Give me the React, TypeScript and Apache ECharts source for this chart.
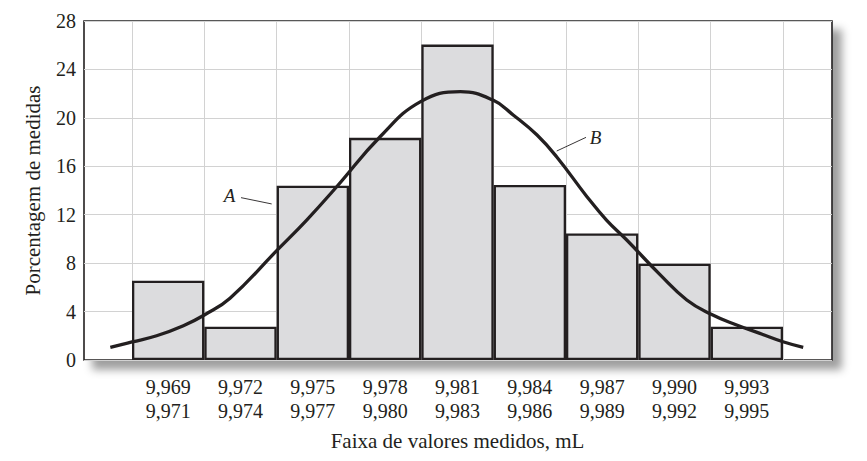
import React, { useEffect, useRef } from "react";
import * as echarts from "echarts";

const binStarts = ["9,969", "9,972", "9,975", "9,978", "9,981", "9,984", "9,987", "9,990", "9,993"];
const binEnds = ["9,971", "9,974", "9,977", "9,980", "9,983", "9,986", "9,989", "9,992", "9,995"];
const percentages = [6.55, 2.75, 14.4, 18.35, 26.05, 14.45, 10.45, 7.95, 2.75];

// Smooth curve, x measured in bin units (0 = left edge of first bin)
const curveX = [-0.3, 0.0, 0.34, 0.71, 1.0, 1.355, 2.0, 2.415, 2.83, 3.43, 3.99, 4.54, 4.99, 5.27, 5.6, 5.87, 6.29, 6.56, 6.84, 7.3, 7.67, 8.0, 8.36, 8.68, 9.0, 9.28];
const curveY = [1.05, 1.49, 2.0, 2.83, 3.72, 5.1, 9.03, 11.56, 14.31, 18.44, 21.34, 22.16, 21.47, 20.24, 18.58, 16.79, 13.49, 11.56, 9.91, 7.05, 4.96, 3.8, 2.89, 2.2, 1.51, 1.05];

const yMin = 0;
const yMax = 28;
const yInterval = 4;
const xMin = -0.664;
const xMax = 9.678;

const annotations = [
  { text: "A", label: [1.348, 13.55], from: [1.507, 13.41], to: [1.931, 12.89] },
  { text: "B", label: [6.408, 18.38], from: [5.872, 17.26], to: [6.277, 18.39] },
];

const FONT = "Liberation Serif";
const INK = "#231f20";

export default function App() {
  const ref = useRef<HTMLDivElement>(null);
  useEffect(() => {
    if (!ref.current) return;
    const chart = echarts.init(ref.current, undefined, { renderer: "svg" });
    const option: any = {
      animation: false,
      backgroundColor: "#ffffff",
      textStyle: { fontFamily: FONT, color: INK },
      grid: [
        {
          left: 84,
          right: 35,
          top: 21,
          bottom: 101,
          show: true,
          backgroundColor: "#ffffff",
          borderColor: INK,
          borderWidth: 1.6,
          shadowColor: "rgba(0,0,0,0.38)",
          shadowBlur: 8,
          shadowOffsetX: 9,
          shadowOffsetY: 9,
        },
        { left: 132, right: 84, top: 21, bottom: 101, show: false },
      ],
      xAxis: [
        {
          type: "value",
          gridIndex: 0,
          min: xMin,
          max: xMax,
          show: false,
        },
        {
          type: "category",
          gridIndex: 1,
          data: binStarts.map((s, i) => s + "\n" + binEnds[i]),
          boundaryGap: true,
          axisLine: { show: false },
          axisTick: { show: false },
          splitLine: { show: true, lineStyle: { color: "#d2d2d2", width: 1 } },
          axisLabel: {
            margin: 15,
            fontFamily: FONT,
            fontSize: 20,
            lineHeight: 24,
            color: INK,
            interval: 0,
          },
          name: "Faixa de valores medidos, mL",
          nameLocation: "middle",
          nameGap: 70,
          nameTextStyle: { fontFamily: FONT, fontSize: 21, color: INK },
        },
      ],
      yAxis: [
        {
          type: "value",
          gridIndex: 0,
          min: yMin,
          max: yMax,
          interval: yInterval,
          axisLine: { show: false },
          axisTick: { show: false },
          splitLine: { show: true, lineStyle: { color: "#d2d2d2", width: 1 } },
          axisLabel: { margin: 8, fontFamily: FONT, fontSize: 20, color: INK },
          name: "Porcentagem de medidas",
          nameLocation: "middle",
          nameGap: 41,
          nameRotate: 90,
          nameTextStyle: { fontFamily: FONT, fontSize: 21, color: INK },
        },
        {
          type: "value",
          gridIndex: 1,
          min: yMin,
          max: yMax,
          interval: yInterval,
          show: false,
          splitLine: { show: false },
        },
      ],
      series: [
        {
          type: "bar",
          xAxisIndex: 1,
          yAxisIndex: 1,
          data: percentages,
          barWidth: "100%",
          barCategoryGap: 0,
          z: 2,
          itemStyle: { color: "#dcdcde", borderColor: INK, borderWidth: 2.3 },
        },
        {
          type: "line",
          xAxisIndex: 0,
          yAxisIndex: 0,
          data: curveX.map((x, i) => [x, curveY[i]]),
          smooth: 0.45,
          showSymbol: false,
          symbol: "none",
          z: 4,
          lineStyle: { color: INK, width: 3.3 },
          markLine: {
            silent: true,
            symbol: ["none", "none"],
            lineStyle: { color: INK, width: 0.9, type: "solid" },
            label: { show: false },
            data: annotations.map((a) => [{ coord: a.from }, { coord: a.to }]),
          },
          markPoint: {
            silent: true,
            symbol: "rect",
            symbolSize: 1,
            itemStyle: { color: "rgba(0,0,0,0)" },
            data: annotations.map((a) => ({
              coord: a.label,
              label: {
                show: true,
                position: "inside",
                formatter: a.text,
                fontFamily: FONT,
                fontStyle: "italic",
                fontSize: 19,
                color: INK,
              },
            })),
          },
        },
      ],
    };
    chart.setOption(option);
    return () => chart.dispose();
  }, []);
  return (
    <div
      ref={ref}
      style={{ position: "fixed", left: 0, top: 0, width: 867, height: 461 }}
    />
  );
}
